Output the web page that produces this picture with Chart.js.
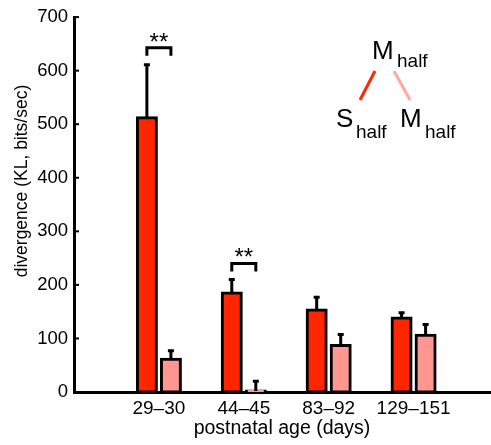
<!DOCTYPE html>
<html>
<head>
<meta charset="utf-8">
<script src="https://cdn.jsdelivr.net/npm/chart.js@4/dist/chart.umd.min.js"></script>
<style>
  html, body { margin: 0; padding: 0; background: #fff; }
  #wrap { width: 491px; height: 445px; }
</style>
</head>
<body>
<div id="wrap"><canvas id="kl" width="491" height="445"></canvas></div>
<script>
// data
const categories = ['29\u201330', '44\u201345', '83\u201392', '129\u2013151'];
const sHalf = [512, 185, 153, 138];        // S_half vs M_half (red)
const sHalfErr = [101, 27, 26, 12];        // upper error
const mHalf = [61, 2, 87, 106];            // M_half vs M_half (pink)
const mHalfErr = [18, 20, 22, 22];
const sigLevel = [643, 240, null, null];   // "**" brackets
const yTicks = [0, 100, 200, 300, 400, 500, 600, 700];

const RED = '#ff2600';
const PINK = '#ff9690';
const FONT = '"Liberation Sans", Arial, Helvetica, sans-serif';

const pts = arr => arr.map((v, i) => ({ x: i + 1, y: v }));

const extras = {
  id: 'extras',
  afterDatasetsDraw(chart) {
    const { ctx, scales: { x, y } } = chart;
    ctx.save();
    ctx.strokeStyle = '#000';
    ctx.lineWidth = 3;
    ctx.lineCap = 'butt';

    // error bars (upper only)
    [[0, sHalf, sHalfErr], [1, mHalf, mHalfErr]].forEach(([di, vals, errs]) => {
      const meta = chart.getDatasetMeta(di);
      meta.data.forEach((bar, i) => {
        const cx = bar.x;
        const y0 = y.getPixelForValue(vals[i]);
        const y1 = y.getPixelForValue(vals[i] + errs[i]);
        ctx.beginPath();
        ctx.moveTo(cx, y0);
        ctx.lineTo(cx, y1);
        ctx.moveTo(cx - 3, y1 + 1);
        ctx.lineTo(cx + 3, y1 + 1);
        ctx.stroke();
      });
    });

    // significance brackets
    const redMeta = chart.getDatasetMeta(0);
    const pinkMeta = chart.getDatasetMeta(1);
    ctx.fillStyle = '#000';
    ctx.font = '24px ' + FONT;
    ctx.textAlign = 'center';
    ctx.textBaseline = 'alphabetic';
    sigLevel.forEach((lv, i) => {
      if (lv == null) return;
      const xa = redMeta.data[i].x;
      const xb = pinkMeta.data[i].x;
      const yy = y.getPixelForValue(lv);
      ctx.beginPath();
      ctx.moveTo(xa, yy + 8);
      ctx.lineTo(xa, yy);
      ctx.lineTo(xb, yy);
      ctx.lineTo(xb, yy + 8);
      ctx.stroke();
      ctx.fillText('**', (xa + xb) / 2, yy + 2);
    });

    // inward ticks on y axis
    ctx.lineWidth = 2;
    yTicks.forEach(t => {
      const py = y.getPixelForValue(t);
      ctx.beginPath();
      ctx.moveTo(x.left, py);
      ctx.lineTo(x.left + 5, py);
      ctx.stroke();
    });

    // y axis title
    ctx.save();
    ctx.translate(22, 181);
    ctx.rotate(-Math.PI / 2);
    ctx.textBaseline = 'middle';
    ctx.font = '17.5px ' + FONT;
    ctx.fillText('divergence (KL, bits/sec)', 0, 0);
    ctx.restore();

    // key diagram
    ctx.textAlign = 'left';
    ctx.textBaseline = 'alphabetic';
    ctx.font = '26px ' + FONT;
    ctx.fillText('M', 372, 59);
    ctx.fillText('S', 336, 127);
    ctx.fillText('M', 400, 127);
    ctx.font = '19px ' + FONT;
    ctx.fillText('half', 397, 67);
    ctx.fillText('half', 356, 138);
    ctx.fillText('half', 425, 138);
    ctx.lineWidth = 3;
    ctx.strokeStyle = RED;
    ctx.beginPath(); ctx.moveTo(375, 71); ctx.lineTo(360, 100); ctx.stroke();
    ctx.strokeStyle = '#ffaaa0';
    ctx.beginPath(); ctx.moveTo(394, 71); ctx.lineTo(410, 100); ctx.stroke();
    ctx.restore();
  }
};

new Chart(document.getElementById('kl'), {
  type: 'bar',
  data: {
    datasets: [
      { label: 'S_half', data: pts(sHalf), backgroundColor: RED, borderColor: '#000', borderWidth: 3 },
      { label: 'M_half', data: pts(mHalf), backgroundColor: PINK, borderColor: '#000', borderWidth: 3 }
    ]
  },
  options: {
    responsive: false,
    animation: false,
    categoryPercentage: 0.566,
    barPercentage: 0.79,
    datasets: { bar: { inflateAmount: 1.5, borderSkipped: false } },
    layout: { padding: { top: 13, right: 1, left: 0, bottom: 0 } },
    plugins: { legend: { display: false }, tooltip: { enabled: false } },
    scales: {
      x: {
        type: 'linear',
        offset: false,
        z: 1,
        min: 0,
        max: 4.9,
        afterBuildTicks: s => { s.ticks = categories.map((c, i) => ({ value: i + 1 })); },
        afterFit: s => { s.height = 53; },
        grid: { display: false, drawTicks: false, offset: false },
        border: { color: '#000', width: 3 },
        ticks: {
          autoSkip: false, maxRotation: 0, padding: 5, color: '#000',
          font: { family: FONT, size: 19 },
          callback: v => categories[v - 1]
        },
        title: {
          display: true, text: 'postnatal age (days)', color: '#000', padding: { top: 0, bottom: 5 },
          font: { family: FONT, size: 19.5 }
        }
      },
      y: {
        min: 0,
        max: 700,
        afterBuildTicks: s => { s.ticks = yTicks.map(v => ({ value: v })); },
        afterFit: s => { s.width = 74; },
        grid: { display: false, drawTicks: false },
        border: { color: '#000', width: 3 },
        ticks: { padding: 6, color: '#000', font: { family: FONT, size: 18.5 } }
      }
    }
  },
  plugins: [extras]
});
</script>
</body>
</html>
